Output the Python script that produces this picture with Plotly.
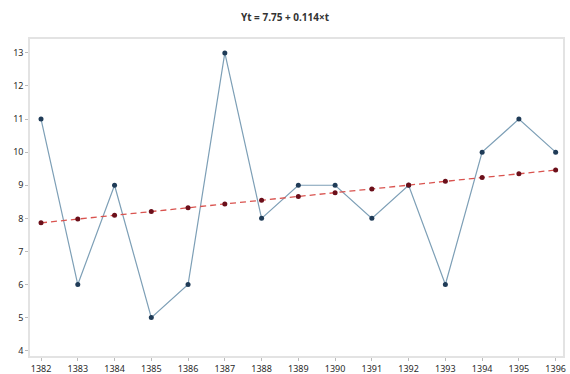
import plotly.graph_objects as go

years = [1382, 1383, 1384, 1385, 1386, 1387, 1388, 1389, 1390, 1391, 1392, 1393, 1394, 1395, 1396]
values = [11, 6, 9, 5, 6, 13, 8, 9, 9, 8, 9, 6, 10, 11, 10]
intercept = 7.75
slope = 0.114
t_index = list(range(1, len(years) + 1))
trend = [intercept + slope * t for t in t_index]
y_ticks = [4, 5, 6, 7, 8, 9, 10, 11, 12, 13]

fig = go.Figure()
fig.add_trace(go.Scatter(
    x=years, y=values, mode="lines+markers",
    line=dict(color="#7d9fb6", width=1.2),
    marker=dict(color="#1f3b57", size=5),
    showlegend=False,
))
fig.add_trace(go.Scatter(
    x=years, y=trend, mode="lines+markers",
    line=dict(color="#d9534f", width=1.3, dash="6px,4px"),
    marker=dict(color="#6b0f1a", size=5),
    showlegend=False,
))

axis_common = dict(
    showgrid=False, zeroline=False, automargin=False,
    showline=True, linecolor="#e3e3e3", linewidth=1.5, mirror=True,
    ticks="outside", ticklen=3, tickcolor="#bbbbbb",
    tickfont=dict(family="Noto Sans", size=9, color="#2a2a2a"),
)

fig.update_layout(
    width=570, height=374,
    margin=dict(l=30, r=7, t=39, b=18, autoexpand=False),
    paper_bgcolor="white", plot_bgcolor="white",
    title=dict(text="<b>Yt = 7.75 + 0.114×t</b>", x=0.5, xanchor="center", y=1 - 17 / 374, yanchor="middle",
               font=dict(family="Noto Sans", size=10, color="#333333")),
    xaxis=dict(range=[1381.7, 1396.2], tickvals=years, ticktext=[str(y) for y in years], **axis_common),
    yaxis=dict(range=[3.84, 13.42], tickvals=y_ticks, ticktext=[str(v) for v in y_ticks], **axis_common),
)

fig.write_html("out.html")
